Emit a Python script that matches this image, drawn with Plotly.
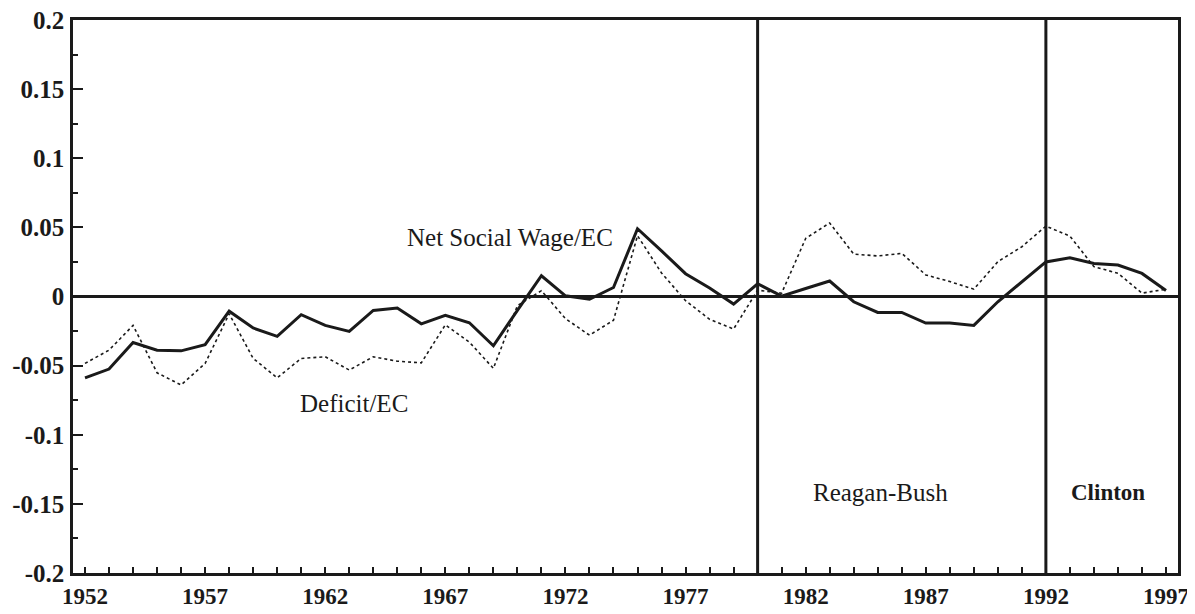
import plotly.graph_objects as go

years = list(range(1952, 1998))
net_social_wage = [
    -0.0588, -0.0525, -0.0333, -0.0388, -0.0393, -0.0348, -0.0106, -0.0228,
    -0.0288, -0.0132, -0.0209, -0.0252, -0.0101, -0.0084, -0.0198, -0.0137,
    -0.0190, -0.0356, -0.0100, 0.0150, 0.0005, -0.0020, 0.0065, 0.0490,
    0.0330, 0.0165, 0.0062, -0.0055, 0.0092, 0.0003, 0.0058, 0.0112,
    -0.0038, -0.0115, -0.0115, -0.0192, -0.0192, -0.0209, -0.0038, 0.0108,
    0.0250, 0.0280, 0.0239, 0.0228, 0.0167, 0.0043,
]
deficit = [
    -0.0484, -0.0388, -0.0209, -0.0552, -0.0640, -0.0484, -0.0125, -0.0448,
    -0.0588, -0.0448, -0.0436, -0.0532, -0.0436, -0.0468, -0.0480, -0.0205,
    -0.0330, -0.0520, -0.0066, 0.0042, -0.0160, -0.0280, -0.0172, 0.0440,
    0.0170, -0.0030, -0.0165, -0.0235, 0.0046, 0.0024, 0.0420, 0.0532,
    0.0307, 0.0293, 0.0312, 0.0156, 0.0108, 0.0053, 0.0252, 0.0360,
    0.0509, 0.0437, 0.0216, 0.0168, 0.0024, 0.0053,
]
x_labels = [1952, 1957, 1962, 1967, 1972, 1977, 1982, 1987, 1992, 1997]
y_ticks = [-0.2, -0.15, -0.1, -0.05, 0, 0.05, 0.1, 0.15, 0.2]
y_labels = ["-0.2", "-0.15", "-0.1", "-0.05", "0", "0.05", "0.1", "0.15", "0.2"]
era_lines = [1980, 1992]

INK = "#1a1a1a"
SERIF = "Liberation Serif, Times New Roman, serif"

fig = go.Figure()
fig.add_trace(go.Scatter(x=years, y=deficit, mode="lines", name="Deficit/EC",
                         line=dict(color=INK, width=1.6, dash="dot")))
fig.add_trace(go.Scatter(x=years, y=net_social_wage, mode="lines", name="Net Social Wage/EC",
                         line=dict(color=INK, width=3)))

# zero line
fig.add_shape(type="line", xref="paper", x0=0, x1=1, yref="y", y0=0, y1=0,
              line=dict(color=INK, width=3))
for yr in era_lines:
    fig.add_shape(type="line", xref="x", x0=yr, x1=yr, yref="paper", y0=0, y1=1,
                  line=dict(color=INK, width=3))

ann_font = dict(family=SERIF, size=25, color=INK)
fig.add_annotation(x=1969.7, y=0.0425, text="Net Social Wage/EC", showarrow=False, font=ann_font)
fig.add_annotation(x=1963.2, y=-0.0775, text="Deficit/EC", showarrow=False, font=ann_font)
fig.add_annotation(x=1985.1, y=-0.1415, text="Reagan-Bush", showarrow=False, font=ann_font)
fig.add_annotation(x=1994.6, y=-0.1415, text="<b>Clinton</b>", showarrow=False,
                   font=dict(family=SERIF, size=23, color=INK))

x_tick_font = dict(family=SERIF, size=23, color=INK, weight="bold")
y_tick_font = dict(family=SERIF, size=25, color=INK, weight="bold")

fig.update_layout(
    width=1195, height=614,
    margin=dict(l=65, r=25, t=12, b=49, autoexpand=False),
    paper_bgcolor="white", plot_bgcolor="white",
    showlegend=False,
    xaxis=dict(
        range=[1951.5, 1997.5],
        tickmode="array", tickvals=years,
        ticktext=[str(y) if y in x_labels else "" for y in years],
        ticks="inside", ticklen=6, tickwidth=1.5, tickcolor=INK,
        showline=True, linecolor=INK, linewidth=2.5, mirror=True,
        showgrid=False, zeroline=False, automargin=False,
        tickfont=x_tick_font, ticklabelstandoff=1, ticklabeloverflow="allow",
    ),
    yaxis=dict(
        range=[-0.2, 0.2],
        tickmode="array", tickvals=y_ticks, ticktext=y_labels,
        ticks="inside", ticklen=10, tickwidth=1.5, tickcolor=INK,
        minor=dict(dtick=0.025, tick0=0, ticks="inside", ticklen=5, tickwidth=1.5, tickcolor=INK),
        showline=True, linecolor=INK, linewidth=2.5, mirror=True,
        showgrid=False, zeroline=False, automargin=False,
        tickfont=y_tick_font, ticklabelstandoff=1, ticklabeloverflow="allow",
    ),
)

fig.write_html("out.html")
